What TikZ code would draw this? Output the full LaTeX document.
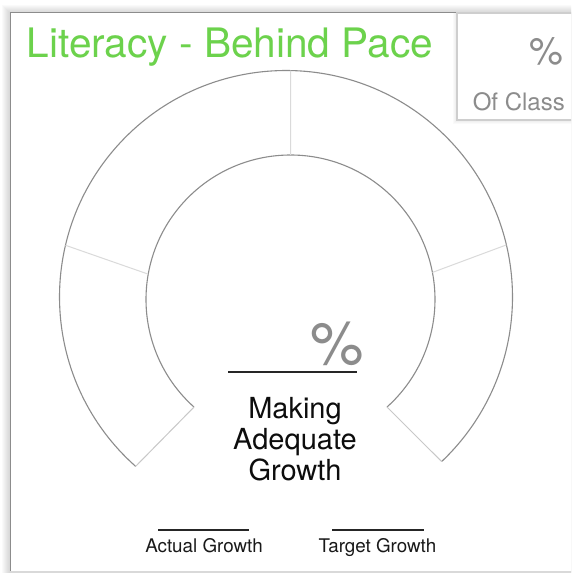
\documentclass[tikz,border=0pt]{standalone}
\usepackage{fontspec}
\setmainfont{TeX Gyre Heros}
\definecolor{pacegreen}{RGB}{108,210,76}
\definecolor{pctgray}{RGB}{140,140,140}
\definecolor{arcgray}{RGB}{140,140,140}
\definecolor{tickgray}{RGB}{218,218,218}
\definecolor{capgray}{RGB}{200,200,200}
\definecolor{boxgray}{RGB}{206,206,206}

\begin{document}
\begin{tikzpicture}[x=1pt,y=1pt,
    arcline/.style={draw=arcgray, line width=1.1pt},
    tickline/.style={draw=tickgray, line width=1pt},
    capline/.style={draw=capgray, line width=1pt},
    blankline/.style={draw=black!85, line width=1.3pt},
    titletext/.style={inner sep=0pt, text=pacegreen, font=\fontsize{40.6}{48}\selectfont},
    greytext/.style={inner sep=0pt, text=pctgray},
    labeltext/.style={inner sep=0pt, text=black!90, font=\fontsize{18.8}{22}\selectfont}]
\useasboundingbox (0,0) rectangle (571,573);
\clip (0,0) rectangle (571,573);
\foreach \s in {1,...,8}
    \fill[black, opacity=0.018] (10-\s,0) rectangle (600,560+\s);
\fill[white] (10,1) rectangle (600,560);
\draw[draw=gray!90, line width=1pt] (10,1) -- (10,560) -- (457,560);
\draw[draw=gray!30, line width=1pt] (10,1) -- (600,1);
\foreach \s in {1,...,4}
    \fill[black, opacity=0.02] (457-\s,453-\s) rectangle (600,560);
\draw[draw=boxgray, fill=white, line width=1.5pt] (457,453) rectangle (600,560);
\coordinate (oc) at (286,276);
\coordinate (ic) at (290.5,273.5);
\coordinate (outerleft) at ([shift={(228.4:226.5)}]oc);
\coordinate (outerright) at ([shift={(-46.6:226.5)}]oc);
\coordinate (innerleft) at ([shift={(228.1:144.5)}]ic);
\coordinate (innerright) at ([shift={(-48.1:144.5)}]ic);
\draw[arcline] (outerleft) arc[start angle=228.4, end angle=-46.6, radius=226.5];
\draw[arcline] (innerleft) arc[start angle=228.1, end angle=-48.1, radius=144.5];
\draw[capline] (outerleft) -- (innerleft);
\draw[capline] (outerright) -- (innerright);
\foreach \a/\b in {166.8/169.9, 88.8/90, 13.3/10.8}
    \draw[tickline] ([shift={(\a:226.5)}]oc) -- ([shift={(\b:144.5)}]ic);
\node[titletext, anchor=base west] (title) at (26.5,515) {Literacy - Behind Pace};
\node[greytext, anchor=base east, font=\fontsize{38}{44}\selectfont] (classpct) at (563.5,508) {\%};
\node[greytext, anchor=base east, font=\fontsize{24}{28}\selectfont] (classlabel) at (565,462) {Of Class};
\draw[blankline] (228,201) -- (357,201);
\node[greytext, anchor=base east, font=\fontsize{60}{70}\selectfont] (gaugepct) at (364.5,208) {\%};
\node[inner sep=0pt, align=center, anchor=base, text=black!95, font=\fontsize{29}{31.5}\selectfont] (status) at (295,92) {Making\\Adequate\\Growth};
\draw[blankline, line width=1.1pt] (158,43) -- (249,43);
\draw[blankline, line width=1.1pt] (332,43) -- (424,43);
\node[labeltext, anchor=base] (actual) at (204,20) {Actual Growth};
\node[labeltext, anchor=base] (target) at (377.5,20) {Target Growth};
\end{tikzpicture}
\end{document}
